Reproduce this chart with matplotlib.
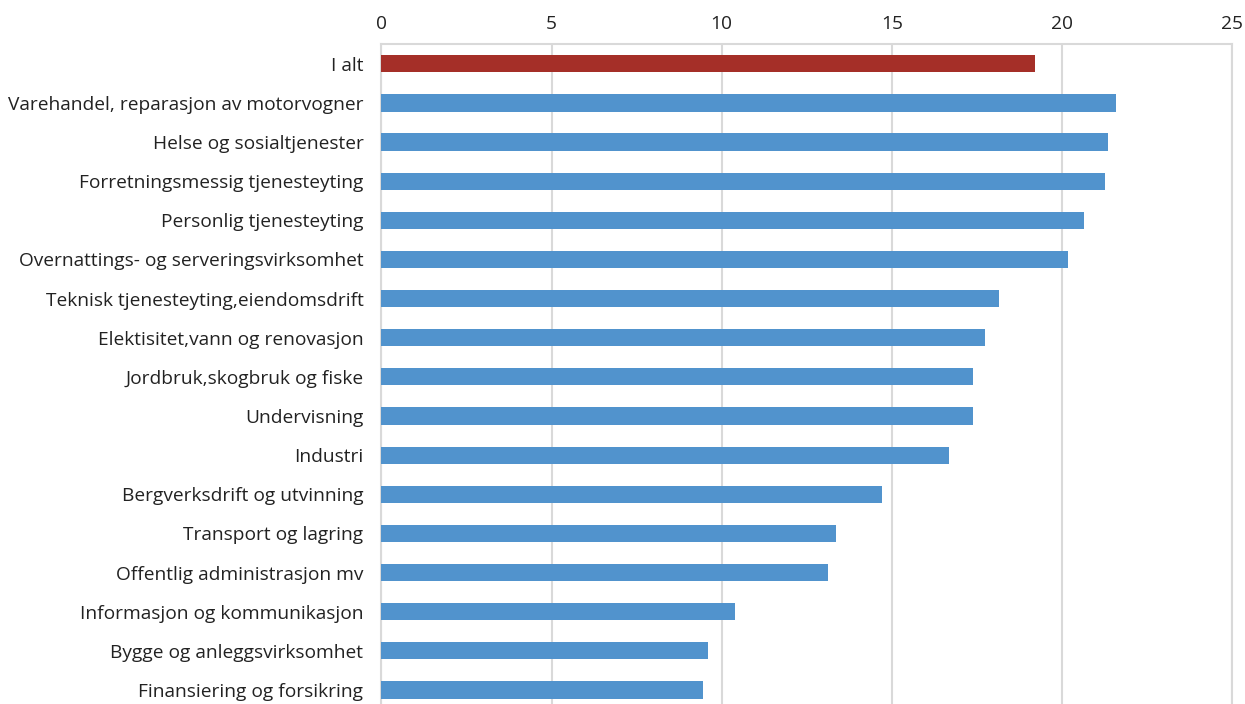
import matplotlib.pyplot as plt

categories = [
    "I alt",
    "Varehandel, reparasjon av motorvogner",
    "Helse og sosialtjenester",
    "Forretningsmessig tjenesteyting",
    "Personlig tjenesteyting",
    "Overnattings- og serveringsvirksomhet",
    "Teknisk tjenesteyting,eiendomsdrift",
    "Elektisitet,vann og renovasjon",
    "Jordbruk,skogbruk og fiske",
    "Undervisning",
    "Industri",
    "Bergverksdrift og utvinning",
    "Transport og lagring",
    "Offentlig administrasjon mv",
    "Informasjon og kommunikasjon",
    "Bygge og anleggsvirksomhet",
    "Finansiering og forsikring",
]
values = [19.21, 21.59, 21.35, 21.26, 20.65, 20.18, 18.15, 17.75, 17.38, 17.38,
          16.67, 14.72, 13.36, 13.13, 10.39, 9.60, 9.45]
x_ticks = [0, 5, 10, 15, 20, 25]

plt.rcParams['font.family'] = ['Open Sans', 'DejaVu Sans']

fig = plt.figure(figsize=(12.45, 7.04), dpi=100)
ax = fig.add_axes([0.3064, -0.0078, 0.6832, 0.9449])

colors = ['#a52f28'] + ['#5193cd'] * (len(values) - 1)
ax.barh(range(len(values)), values, height=0.44, color=colors, zorder=3)

ax.set_ylim(len(values) - 0.5, -0.5)
ax.set_xlim(0, 25)
ax.set_xticks(x_ticks)
ax.set_yticks(range(len(values)))
ax.set_yticklabels(categories)
ax.xaxis.tick_top()
ax.tick_params(axis='both', length=0, labelsize=13.8, colors='#222222')
ax.tick_params(axis='x', pad=8)
ax.tick_params(axis='y', pad=13)
ax.grid(axis='x', color='#d9d9d9', linewidth=1.5, zorder=0)
for s in ax.spines.values():
    s.set_color('#d9d9d9')
    s.set_linewidth(1.5)

fig.savefig("out.png", dpi=100)
